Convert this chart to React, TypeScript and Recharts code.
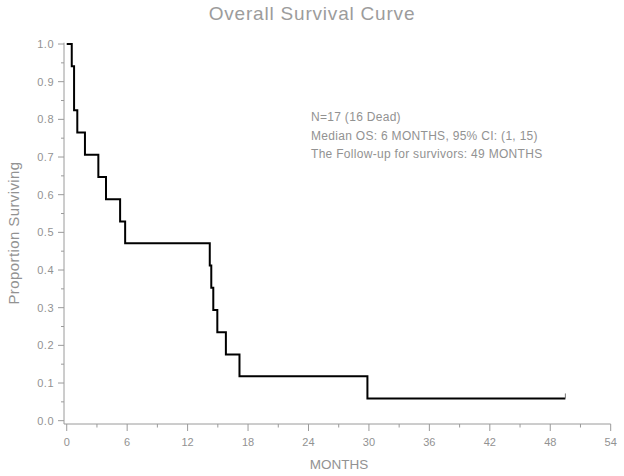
import React from 'react';
import { LineChart, Line, XAxis, YAxis } from 'recharts';

const months = [0, 0.5, 0.73, 1.05, 1.81, 3.14, 3.9, 5.3, 5.8, 14.2, 14.35, 14.55, 14.95, 15.8, 17.15, 29.85, 49.5];
const survival = [1, 0.941, 0.824, 0.765, 0.706, 0.647, 0.588, 0.529, 0.471, 0.412, 0.353, 0.294, 0.235, 0.176, 0.118, 0.059, 0.059];

const xTicks = [0, 3, 6, 9, 12, 15, 18, 21, 24, 27, 30, 33, 36, 39, 42, 45, 48, 51, 54];
const xLabelEvery = 6;
const yTicks = [0, 0.05, 0.1, 0.15, 0.2, 0.25, 0.3, 0.35, 0.4, 0.45, 0.5, 0.55, 0.6, 0.65, 0.7, 0.75, 0.8, 0.85, 0.9, 0.95, 1.0];

const title = 'Overall Survival Curve';
const xLabel = 'MONTHS';
const yLabel = 'Proportion Surviving';
const notes = ['N=17 (16 Dead)', 'Median OS: 6 MONTHS, 95% CI: (1, 15)', 'The Follow-up for survivors: 49 MONTHS'];

const data = months.map((t, i) => ({ t, s: survival[i] }));

const FONT = '"Liberation Sans", Arial, sans-serif';
const AXIS = '#9a9a9a';
const TEXT = '#929292';
const X_DOMAIN: [number, number] = [-0.27, 54];
const Y_DOMAIN: [number, number] = [-0.0088, 1.0035];

const XTick = (p: any) => {
  const v = p.payload.value as number;
  const major = Math.abs(v % xLabelEvery) < 1e-6;
  return (
    <g>
      <line x1={p.x} y1={p.y} x2={p.x} y2={p.y + (major ? 7 : 3.5)} stroke={AXIS} strokeWidth={1} />
      {major && (
        <text x={p.x} y={p.y + 14} dy="0.71em" textAnchor="middle" fontSize={11} fill={TEXT} fontFamily={FONT}>
          {String(v)}
        </text>
      )}
    </g>
  );
};

const YTick = (p: any) => {
  const v = p.payload.value as number;
  const major = Math.abs(Math.round(v * 10) - v * 10) < 1e-6;
  return (
    <g>
      <line x1={p.x} y1={p.y} x2={p.x - (major ? 6 : 3)} y2={p.y} stroke={AXIS} strokeWidth={1} />
      {major && (
        <text x={p.x - 10} y={p.y} dy="0.355em" textAnchor="end" fontSize={11} letterSpacing={0.5} fill={TEXT} fontFamily={FONT}>
          {v.toFixed(1)}
        </text>
      )}
    </g>
  );
};

export default function App() {
  const last = data.length - 1;
  return (
    <div style={{ position: 'absolute', left: 0, top: 0, width: 624, height: 476, background: '#fff' }}>
      <LineChart
        width={624}
        height={476}
        data={data}
        margin={{ top: 42.7, right: 13.3, bottom: 0, left: 0 }}
      >
        <XAxis
          type="number"
          dataKey="t"
          domain={X_DOMAIN}
          ticks={xTicks}
          height={52}
          axisLine={{ stroke: AXIS }}
          tickLine={false}
          tickSize={0}
          tickMargin={0}
          tick={<XTick />}
          interval={0}
          allowDataOverflow
        />
        <YAxis
          type="number"
          domain={Y_DOMAIN}
          ticks={yTicks}
          width={64}
          axisLine={{ stroke: AXIS }}
          tickLine={false}
          tickSize={0}
          tickMargin={0}
          tick={<YTick />}
          interval={0}
          allowDataOverflow
        />
        <Line
          type="stepAfter"
          dataKey="s"
          stroke="#000"
          strokeWidth={2}
          isAnimationActive={false}
          dot={(p: any) =>
            p.index === last ? (
              <line key={`c${p.index}`} x1={p.cx} y1={p.cy} x2={p.cx} y2={p.cy - 5} stroke="#777" strokeWidth={1} />
            ) : (
              <g key={`c${p.index}`} />
            )
          }
          activeDot={false}
        />
      </LineChart>
      <svg
        width={624}
        height={476}
        style={{ position: 'absolute', left: 0, top: 0, pointerEvents: 'none' }}
      >
        <text x={312} y={20} textAnchor="middle" fontSize={19} letterSpacing={0.8} fill="#9c9c9c" fontFamily={FONT}>
          {title}
        </text>
        <text x={339} y={469} textAnchor="middle" fontSize={13.5} fill={TEXT} fontFamily={FONT}>
          {xLabel}
        </text>
        <text
          x={0}
          y={0}
          transform="translate(19,233) rotate(-90)"
          textAnchor="middle"
          fontSize={15}
          letterSpacing={0.4}
          fill={TEXT}
          fontFamily={FONT}
        >
          {yLabel}
        </text>
        {notes.map((n, i) => (
          <text key={i} x={311} y={121 + i * 18.6} fontSize={12} letterSpacing={0.3} fill={TEXT} fontFamily={FONT}>
            {n}
          </text>
        ))}
      </svg>
    </div>
  );
}
